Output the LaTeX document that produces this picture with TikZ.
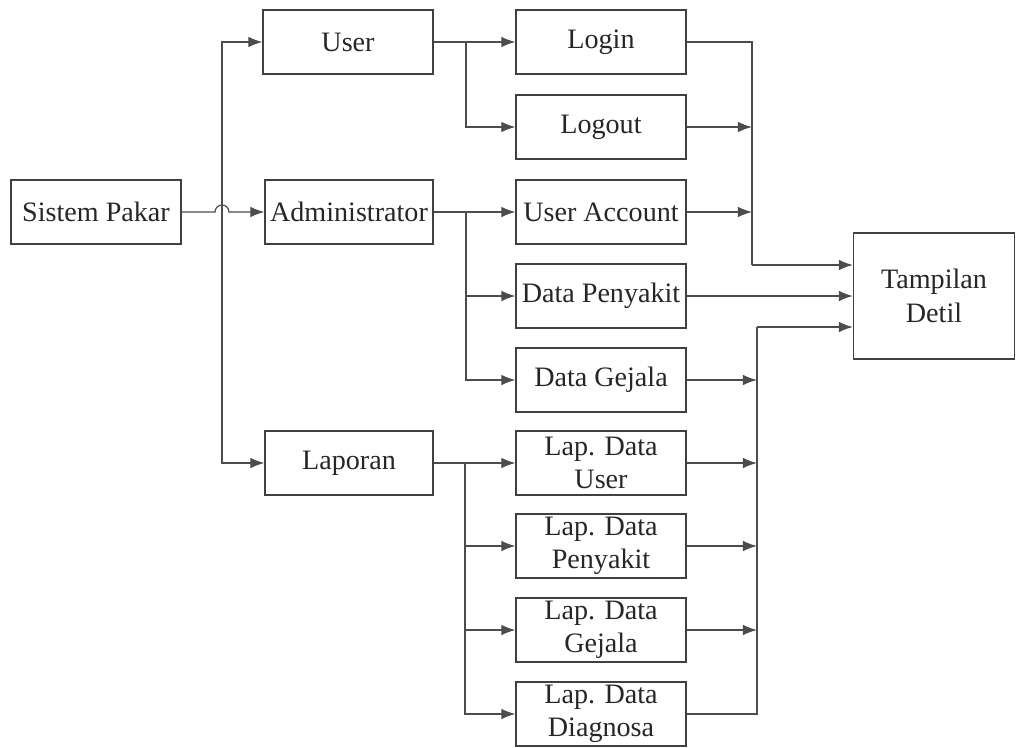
\documentclass[tikz,border=0pt]{standalone}
\usepackage{fontspec}
\setmainfont{Liberation Serif}
\usetikzlibrary{arrows.meta}

\begin{document}
\begin{tikzpicture}[x=0.02cm,y=-0.02cm,
    box/.style={draw=black!75, line width=0.7pt, minimum width=3.4cm,
      minimum height=1.28cm, align=center, inner sep=1pt, text=black!85,
      font=\fontsize{16}{19}\selectfont},
    link/.style={draw=black!70, line width=0.7pt},
    arr/.style={link, -{Latex[length=8pt,width=6pt]}}]
  \useasboundingbox (0,0) rectangle (1017,747);

  % level 0 and 1
  \node[box] (sp)  at (96,212)  {Sistem Pakar};
  \node[box] (usr) at (348,42)  {User};
  \node[box, minimum width=3.36cm] (adm) at (349,212) {Administrator};
  \node[box, minimum width=3.36cm] (lap) at (349,463) {Laporan};

  % level 2
  \node[box] (login)  at (601,42)  {Login};
  \node[box] (logout) at (601,127) {Logout};
  \node[box] (ua)     at (601,212) {User Account};
  \node[box] (dp)     at (601,296) {Data Penyakit};
  \node[box] (dg)     at (601,380) {Data Gejala};
  \node[box] (lu)     at (601,463) {Lap. Data\\User};
  \node[box] (lp)     at (601,546) {Lap. Data\\Penyakit};
  \node[box] (lg)     at (601,630) {Lap. Data\\Gejala};
  \node[box] (ld)     at (601,714) {Lap. Data\\Diagnosa};

  % level 3
  \node[box, minimum width=3.22cm, minimum height=2.52cm] (tam) at (934,296) {Tampilan\\Detil};

  % bus points
  \coordinate (busL) at (222,212);
  \coordinate (hopA) at (215,212);
  \coordinate (bU) at (466,42);
  \coordinate (bA) at (466,212);
  \coordinate (bL) at (465,463);
  \coordinate (rJ) at (752,265);
  \coordinate (sJ) at (757,327);

  % Sistem Pakar to level 1
  \draw[arr] (busL) |- (usr.west);
  \draw[arr] (busL) |- (lap.west);
  \draw[arr] (sp.east) -- (hopA) arc[start angle=180, end angle=360, radius=7] -- (adm.west);

  % level 1 to level 2
  \draw[arr] (usr.east) -- (login.west);
  \draw[arr] (bU) |- (logout.west);
  \draw[arr] (adm.east) -- (ua.west);
  \draw[arr] (bA) |- (dp.west);
  \draw[arr] (bA) |- (dg.west);
  \draw[arr] (lap.east) -- (lu.west);
  \draw[arr] (bL) |- (lp.west);
  \draw[arr] (bL) |- (lg.west);
  \draw[arr] (bL) |- (ld.west);

  % level 2 to Tampilan Detil
  \draw[link] (login.east) -| (rJ);
  \draw[arr] (logout.east) -- (logout.east -| rJ);
  \draw[arr] (ua.east) -- (ua.east -| rJ);
  \draw[arr] (rJ) -- (rJ -| tam.west);
  \draw[arr] (dp.east) -- (tam.west);
  \draw[link] (ld.east) -| (sJ);
  \draw[arr] (sJ) -- (sJ -| tam.west);
  \draw[arr] (dg.east) -- (dg.east -| sJ);
  \draw[arr] (lu.east) -- (lu.east -| sJ);
  \draw[arr] (lp.east) -- (lp.east -| sJ);
  \draw[arr] (lg.east) -- (lg.east -| sJ);
\end{tikzpicture}
\end{document}
